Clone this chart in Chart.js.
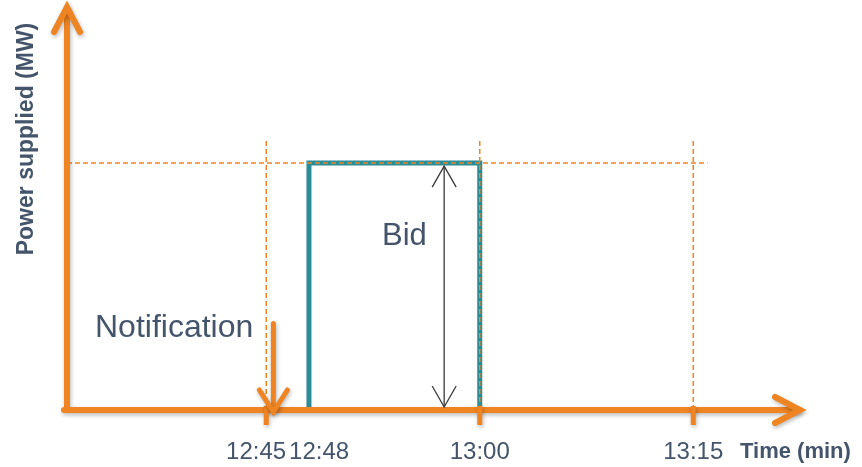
<!DOCTYPE html>
<html>
<head>
<meta charset="utf-8">
<script src="https://cdn.jsdelivr.net/npm/chart.js@4.4.1/dist/chart.umd.min.js"></script>
<style>
  body { margin: 0; background: #fff; }
  #wrap { width: 862px; height: 467px; }
</style>
</head>
<body>
<div id="wrap"><canvas id="canvas"></canvas></div>
<script>
// minutes after 12:00
const timeLabels = ['12:45', '12:48', '13:00', '13:15'];
const timeMinutes = [45, 48, 60, 75];
const bidTimes = [48, 48, 60, 60];
const bidPower = [0, 1, 1, 0];
const guideTimes = [45, 60, 75];
const notificationTime = 45.5;
const notificationTop = 0.35;
const bidArrowTime = 57.5;

const ORANGE = '#EF8423';
const TEAL = '#2B8B96';
const TEXT = '#44546A';
const FONT = '"Liberation Sans", Arial, sans-serif';

function chevron(ctx, tipX, tipY, ax, ay, bx, by) {
  ctx.beginPath();
  ctx.moveTo(ax, ay);
  ctx.lineTo(tipX, tipY);
  ctx.lineTo(bx, by);
  ctx.stroke();
}

const sketch = {
  id: 'sketch',
  afterDatasetsDraw(chart) {
    const { ctx, chartArea: a, scales: { x, y } } = chart;
    const y0 = y.getPixelForValue(0);
    const yBid = y.getPixelForValue(1);

    // dashed guides
    ctx.save();
    ctx.strokeStyle = ORANGE;
    ctx.lineWidth = 1.5;
    ctx.setLineDash([5, 3]);
    ctx.beginPath();
    ctx.moveTo(a.left, yBid);
    ctx.lineTo(x.getPixelForValue(76), yBid);
    guideTimes.forEach(t => {
      const px = x.getPixelForValue(t);
      ctx.moveTo(px, y0);
      ctx.lineTo(px, y.getPixelForValue(1.09));
    });
    ctx.stroke();
    ctx.restore();

    // axes
    ctx.save();
    ctx.strokeStyle = ORANGE;
    ctx.shadowColor = 'rgba(0,0,0,0.28)';
    ctx.shadowBlur = 4;
    ctx.shadowOffsetX = 1;
    ctx.shadowOffsetY = 2;
    ctx.lineWidth = 6;
    ctx.lineCap = 'round';
    ctx.beginPath();
    ctx.moveTo(a.left - 3, y0);
    ctx.lineTo(a.right - 2, y0);
    ctx.moveTo(a.left, y0);
    ctx.lineTo(a.left, a.top + 2);
    ctx.stroke();
    chevron(ctx, a.left, a.top, a.left - 13, a.top + 25, a.left + 13, a.top + 25);
    chevron(ctx, a.right, y0, a.right - 25, y0 - 13, a.right - 25, y0 + 13);

    ctx.lineWidth = 5;
    ctx.lineCap = 'butt';
    ctx.beginPath();
    guideTimes.forEach(t => {
      const px = x.getPixelForValue(t);
      ctx.moveTo(px, y0 - 4);
      ctx.lineTo(px, y0 + 15);
    });
    ctx.stroke();

    // notification arrow
    const nx = x.getPixelForValue(notificationTime);
    ctx.lineCap = 'round';
    ctx.beginPath();
    ctx.moveTo(nx, y.getPixelForValue(notificationTop));
    ctx.lineTo(nx, y0 - 1);
    ctx.stroke();
    chevron(ctx, nx, y0 + 2, nx - 14, y0 - 20, nx + 14, y0 - 20);
    ctx.restore();

    // bid double arrow
    const bx = x.getPixelForValue(bidArrowTime);
    ctx.save();
    ctx.strokeStyle = '#3a3a3a';
    ctx.lineWidth = 1.3;
    ctx.beginPath();
    ctx.moveTo(bx, yBid + 3);
    ctx.lineTo(bx, y0 - 3);
    ctx.stroke();
    chevron(ctx, bx, yBid + 3, bx - 12, yBid + 24, bx + 12, yBid + 24);
    chevron(ctx, bx, y0 - 3, bx - 12, y0 - 24, bx + 12, y0 - 24);
    ctx.restore();

    // texts
    ctx.save();
    ctx.fillStyle = TEXT;
    ctx.textBaseline = 'alphabetic';
    ctx.font = '32px ' + FONT;
    ctx.textAlign = 'left';
    ctx.fillText('Notification', 95, 337);
    ctx.font = '31px ' + FONT;
    ctx.fillText('Bid', 382, 245);

    ctx.font = '24px ' + FONT;
    ctx.textAlign = 'center';
    const pos = timeMinutes.map(t => x.getPixelForValue(t));
    const w = timeLabels.map(s => ctx.measureText(s).width);
    for (let i = 1; i < pos.length; i++) {
      const overlap = (pos[i - 1] + w[i - 1] / 2 + 3) - (pos[i] - w[i] / 2);
      if (overlap > 0) {
        pos[i - 1] -= overlap / 2;
        pos[i] += overlap / 2;
      }
    }
    timeLabels.forEach((s, i) => ctx.fillText(s, pos[i], 459));

    ctx.font = 'bold 22px ' + FONT;
    ctx.textAlign = 'left';
    ctx.fillText('Time (min)', 740, 458);

    ctx.translate(33, 139);
    ctx.rotate(-Math.PI / 2);
    ctx.textAlign = 'center';
    ctx.font = 'bold 23px ' + FONT;
    ctx.fillText('Power supplied (MW)', 0, 0);
    ctx.restore();
  }
};

const ctx = document.getElementById('canvas');
new Chart(ctx, {
  type: 'line',
  data: {
    datasets: [{
      data: bidTimes.map((t, i) => ({ x: t, y: bidPower[i] })),
      borderColor: TEAL,
      borderWidth: 5,
      borderJoinStyle: 'miter',
      pointRadius: 0,
      tension: 0,
      fill: false,
      clip: false
    }]
  },
  options: {
    responsive: true,
    maintainAspectRatio: false,
    animation: false,
    layout: { padding: { left: 67, right: 62, top: 7, bottom: 57 } },
    plugins: { legend: { display: false }, tooltip: { enabled: false } },
    scales: {
      x: { type: 'linear', min: 31, max: 82.5, display: false },
      y: { min: 0, max: 1.632, display: false }
    }
  },
  plugins: [sketch]
});
</script>
</body>
</html>
